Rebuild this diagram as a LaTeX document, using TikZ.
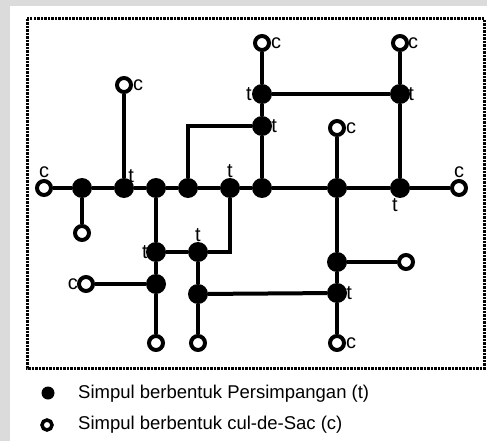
\documentclass[tikz,border=0pt]{standalone}
\usepackage{fontspec}
\setmainfont{Liberation Sans}
\usetikzlibrary{positioning}
\begin{document}
\begin{tikzpicture}[x=1pt, y=-1pt,
      junc/.style={circle, fill=black, inner sep=0pt, minimum size=20pt},
      sac/.style={circle, draw=black, line width=4pt, fill=white, inner sep=0pt, minimum size=14pt},
      road/.style={line width=4pt},
      lbl/.style={inner sep=1pt, font=\fontsize{20}{22}\selectfont},
      legtext/.style={anchor=west, inner sep=0pt, font=\fontsize{18.5}{21}\selectfont}]
    % page and frame
    \fill[gray!28] (0,0) rectangle (487,441);
    \fill[white] (10,6) rectangle (487,441);
    \draw[line width=3pt, dash pattern=on 2.5pt off 1pt] (27,19) rectangle (484,368);
    % junctions on the main street
    \node[junc] (j82)  at (82,188)  {};
    \node[junc] (j124) at (124,188) {};
    \node[junc] (j156) at (156,188) {};
    \node[junc] (j188) at (188,188) {};
    \node[junc] (j230) at (230,188) {};
    \node[junc] (j262) at (262,188) {};
    \node[junc] (j337) at (337,188) {};
    \node[junc] (j400) at (400,188) {};
    % junctions above and below
    \node[junc] (ja) at (262,94)  {};
    \node[junc] (jb) at (262,126) {};
    \node[junc] (jc) at (400,94)  {};
    \node[junc] (jd) at (156,252) {};
    \node[junc] (je) at (198,252) {};
    \node[junc] (jf) at (156,284) {};
    \node[junc] (jg) at (198,294) {};
    \node[junc] (jh) at (337,262) {};
    \node[junc] (ji) at (337,293) {};
    % dead ends
    \node[sac] (c1)  at (44,188)  {};
    \node[sac] (c2)  at (459,188) {};
    \node[sac] (c3)  at (124,85)  {};
    \node[sac] (c4)  at (82,233)  {};
    \node[sac] (c5)  at (262,43)  {};
    \node[sac] (c6)  at (400,43)  {};
    \node[sac] (c7)  at (337,128) {};
    \node[sac] (c8)  at (406,262) {};
    \node[sac] (c9)  at (337,343) {};
    \node[sac] (c10) at (86,284)  {};
    \node[sac] (c11) at (156,343) {};
    \node[sac] (c12) at (198,343) {};
    % streets
    \draw[road] (c1) -- (j82) -- (j124) -- (j156) -- (j188) -- (j230) -- (j262) -- (j337) -- (j400) -- (c2);
    \draw[road] (j82) -- (c4);
    \draw[road] (j124) -- (c3);
    \draw[road] (c5) -- (ja) -- (jb) -- (j262);
    \draw[road] (c6) -- (jc) -- (j400);
    \draw[road] (ja) -- (jc);
    \draw[road] (jb) -| (j188);
    \draw[road] (j156) -- (jd) -- (jf) -- (c11);
    \draw[road] (jd) -- (je);
    \draw[road] (je) -| (j230);
    \draw[road] (je) -- (jg) -- (c12);
    \draw[road] (jf) -- (c10);
    \draw[road] (jg) -- (ji);
    \draw[road] (c7) -- (j337) -- (jh) -- (ji) -- (c9);
    \draw[road] (jh) -- (c8);
    % labels
    \node[lbl, above=0pt of c1] {c};
    \node[lbl, above right=-3pt and -4pt of j124] {t};
    \node[lbl, above=-1pt of j230] {t};
    \node[lbl, above=-1pt of je] {t};
    \node[lbl, left=-3pt of jd] {t};
    \node[lbl, below=-1pt of j400, xshift=-5pt] {t};
    \node[lbl, above=0pt of c2] {c};
    \node[lbl, left=-1pt of ja] {t};
    \node[lbl, right=-2pt of jb] {t};
    \node[lbl, right=-3pt of jc] {t};
    \node[lbl, right=-1pt of c3] {c};
    \node[lbl, right=-1pt of c5] {c};
    \node[lbl, right=-2pt of c6] {c};
    \node[lbl, right=-1pt of c7] {c};
    \node[lbl, right=-2pt of ji] {t};
    \node[lbl, right=-1pt of c9] {c};
    \node[lbl, left=-2pt of c10] {c};
    % legend
    \node[junc, minimum size=13pt] (kj) at (48,393) {};
    \node[sac, minimum size=10pt, line width=3.5pt] (kc) at (47,425) {};
    \node[legtext] (tj) at (78,394) {Simpul berbentuk Persimpangan (t)};
    \node[legtext] (tc) at (78,425) {Simpul berbentuk cul-de-Sac (c)};
  \end{tikzpicture}
\end{document}
